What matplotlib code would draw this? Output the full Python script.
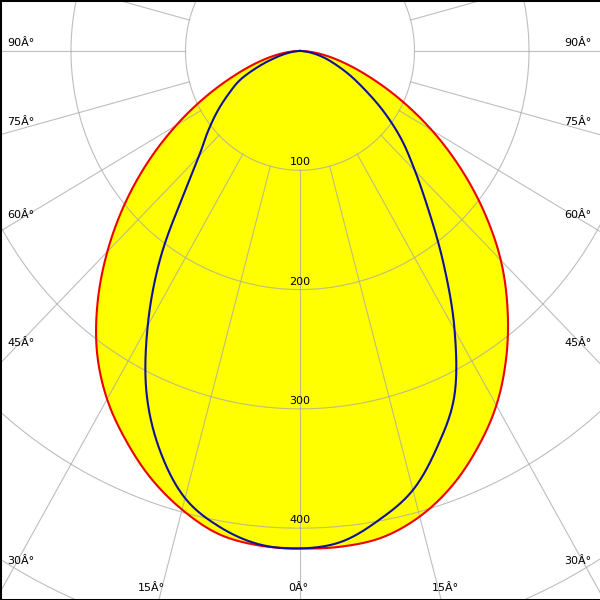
import numpy as np
import matplotlib.pyplot as plt

# luminous intensity (cd) every 5 deg from nadir
angles = np.arange(0, 95, 5)
red_right = [418, 417, 414, 404, 388, 367, 343, 314, 282, 248, 210, 171, 133, 97, 66, 42, 24, 10, 0]
red_left = [417, 416, 411, 398, 381, 360, 337, 309, 275, 238, 200, 162, 125, 91, 62, 40, 23, 10, 0]
blue_right = [416, 413, 399, 381, 352, 319, 270, 219, 175, 142, 116, 90, 66, 48, 33, 22, 12, 4, 0]
blue_left = [417, 415, 405, 388, 357, 317, 266, 213, 159, 125, 105, 88, 72, 58, 39, 23, 12, 4, 0]

rings = [100, 200, 300, 400, 500]
ring_labels = ['100', '200', '300', '400']
angle_labels = ['90Â°', '75Â°', '60Â°', '45Â°', '30Â°', '15Â°', '0Â°']

# where labels sit, in pixels of the 600x600 image
side_y = [43, 122, 215, 343, 561]
bottom_x = [151, 298, 445]


def curve(left, right):
    th = np.concatenate([-angles[::-1], angles[1:]])
    r = np.concatenate([np.array(left)[::-1], np.array(right)[1:]]).astype(float)
    # smooth r(theta) between the 5 deg readings (catmull-rom)
    fine = np.linspace(th[0], th[-1], 1441)
    u = (fine - th[0]) / 5.0
    i = np.minimum(np.floor(u).astype(int), len(r) - 2)
    t = u - i
    p0 = r[np.maximum(i - 1, 0)]
    p1 = r[i]
    p2 = r[i + 1]
    p3 = r[np.minimum(i + 2, len(r) - 1)]
    rs = 0.5 * (2 * p1 + (p2 - p0) * t + (2 * p0 - 5 * p1 + 4 * p2 - p3) * t ** 2
                + (3 * p1 - p0 - 3 * p2 + p3) * t ** 3)
    rs = np.clip(rs, 0, None)
    a = np.radians(fine)
    return rs * np.sin(a), -rs * np.cos(a)


fig = plt.figure(figsize=(6, 6), dpi=100)
ax = fig.add_axes([0, 0, 1, 1])
ax.set_xlim(-262, 262)
ax.set_ylim(-460.2, 42.7)
ax.set_xticks([])
ax.set_yticks([])
for s in ['left', 'top', 'bottom']:
    ax.spines[s].set_linewidth(2.2)
    ax.spines[s].set_color('black')
ax.spines['right'].set_visible(False)

xr, yr = curve(red_left, red_right)
xb, yb = curve(blue_left, blue_right)
ax.fill(xr, yr, color='#ffff00', lw=0, zorder=1)
ax.fill(xb, yb, color='#ffff00', lw=0, zorder=1)

# grid
gc = '#a8a8a8'
t = np.linspace(0, 2 * np.pi, 721)
for r in rings:
    ax.plot(r * np.sin(t), -r * np.cos(t), color=gc, lw=0.8, alpha=0.75, zorder=2)
for a in np.radians(np.arange(0, 360, 15)):
    ax.plot([100 * np.sin(a), 700 * np.sin(a)], [-100 * np.cos(a), -700 * np.cos(a)],
            color=gc, lw=0.8, alpha=0.75, zorder=2)

ax.plot(xr, yr, color='#ee0000', lw=1.5, zorder=3)
ax.plot(xb, yb, color='#10109a', lw=1.5, zorder=4)

# labels
for r, lab in zip(rings, ring_labels):
    ax.text(0, -r + 6.5, lab, ha='center', va='center', fontsize=8, zorder=5)


def px(x, y):
    return x / 600, 1 - y / 600


for lab, y in zip(angle_labels[:5], side_y):
    ax.text(*px(21, y), lab, transform=ax.transAxes, ha='center', va='center', fontsize=8)
    ax.text(*px(578, y), lab, transform=ax.transAxes, ha='center', va='center', fontsize=8)
for lab, x in zip(['15Â°', '0Â°', '15Â°'], bottom_x):
    ax.text(*px(x, 588), lab, transform=ax.transAxes, ha='center', va='center', fontsize=8)

fig.savefig('out.png', dpi=100)
